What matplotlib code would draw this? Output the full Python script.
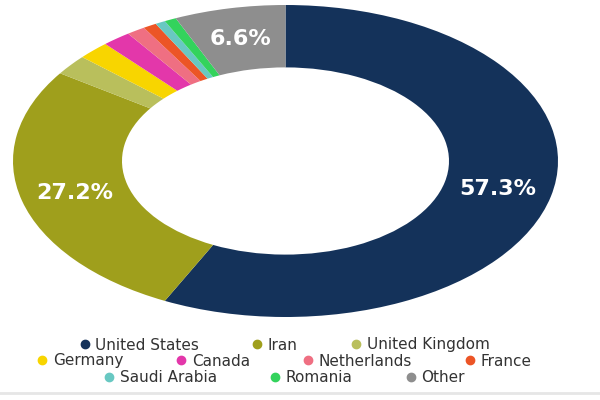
import matplotlib
matplotlib.use('Agg')
import matplotlib.pyplot as plt
from matplotlib.lines import Line2D

# Share of total by country
countries = ['United States', 'Iran', 'United Kingdom', 'Germany', 'Canada',
             'Netherlands', 'France', 'Saudi Arabia', 'Romania', 'Other']
shares = [57.3, 27.2, 2.1, 1.9, 1.7, 1.1, 0.8, 0.6, 0.7, 6.6]
colors = ['#14325a', '#9f9f1c', '#b9bf5c', '#f8d500', '#e337aa',
          '#ef6f82', '#ec5526', '#68c8c2', '#33d35c', '#8e8e8e']

# legend rows as in the original
legend_rows = [countries[0:3], countries[3:7], countries[7:10]]

fig = plt.figure(figsize=(6, 4), dpi=100)

# stretched axes so the donut comes out as an ellipse like the reference
ax = fig.add_axes([13 / 600, 83 / 400, 545 / 600, 312 / 400])

wedges, texts, autotexts = ax.pie(
    shares,
    colors=colors,
    startangle=90,
    counterclock=False,
    radius=1,
    pctdistance=0.8,
    autopct=lambda p: f'{p:.1f}%' if p > 5 else '',
    wedgeprops=dict(width=0.4, linewidth=0),
)
for t in autotexts:
    t.set_color('white')
    t.set_fontsize(16)
    t.set_fontweight('bold')

ax.set_aspect('auto')
ax.set_xlim(-1, 1)
ax.set_ylim(-1, 1)
ax.axis('off')

# Legend, three centered rows
color_of = dict(zip(countries, colors))
row_y = [0.1375, 0.0975, 0.055]
for names, y in zip(legend_rows, row_y):
    handles = [Line2D([0], [0], marker='o', linestyle='', markersize=6,
                      markerfacecolor=color_of[n], markeredgecolor=color_of[n])
               for n in names]
    fig.legend(handles, names, loc='center', bbox_to_anchor=(0.472, y),
               ncol=len(names), frameon=False, fontsize=11,
               handletextpad=0.2, columnspacing=3.3, handlelength=1.0,
               borderpad=0, labelcolor='#333333')

# light rule at the bottom
fig.add_artist(Line2D([0.0, 1.0], [0.018, 0.018], color='#e6e6e6', linewidth=2))

fig.savefig('out.png', dpi=100)
